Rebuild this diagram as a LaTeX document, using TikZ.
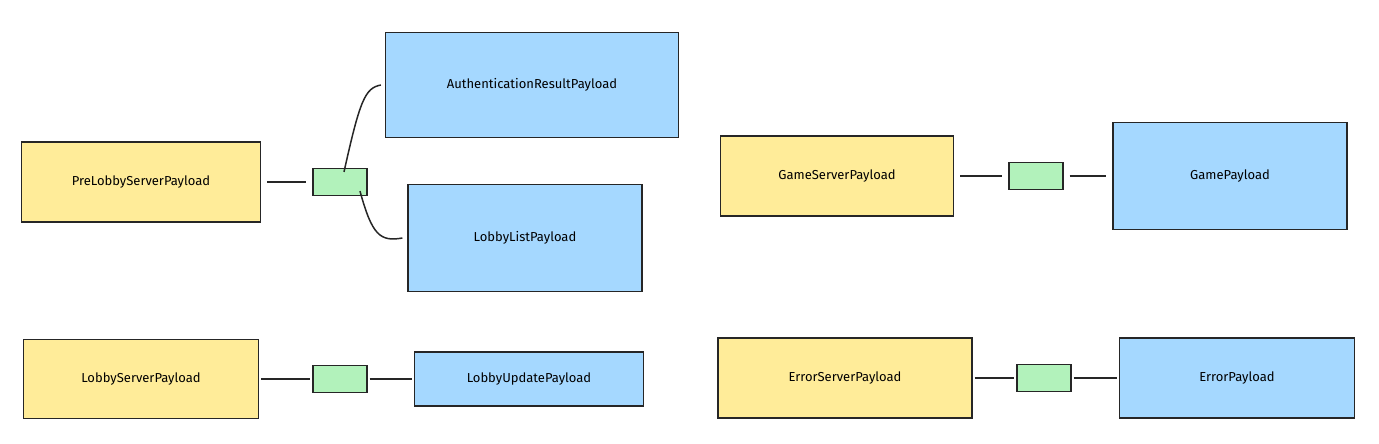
\documentclass[tikz,border=0pt]{standalone}
\usepackage{fontspec}
\setmainfont{Fira Sans}
\begin{document}
\begin{tikzpicture}[x=1pt,y=-1pt,
  box/.style={draw=black!85,line width=1.2pt,inner sep=0pt,font=\fontsize{13}{15}\selectfont},
  yel/.style={box,fill=yellow1},
  blu/.style={box,fill=blue1},
  grn/.style={box,fill=green1,minimum width=54pt,minimum height=27pt},
  ln/.style={line width=1.5pt,black!85,shorten >=6pt,shorten <=6pt}]
\definecolor{yellow1}{HTML}{FFEC99}
\definecolor{blue1}{HTML}{A5D8FF}
\definecolor{green1}{HTML}{B2F2BB}
\useasboundingbox (0,0) rectangle (1379,444);
\node[yel,minimum width=239pt,minimum height=80pt] (pre) at (141,182) {PreLobbyServerPayload};
\node[grn] (g1) at (340,182) {};
\node[blu,minimum width=293pt,minimum height=105pt] (auth) at (532,85) {AuthenticationResultPayload};
\node[blu,minimum width=234pt,minimum height=107pt] (list) at (525,238) {LobbyListPayload};
\node[yel,minimum width=233pt,minimum height=80pt] (gs) at (837,176) {GameServerPayload};
\node[grn] (g2) at (1036,176) {};
\node[blu,minimum width=234pt,minimum height=107pt] (gp) at (1230,176) {GamePayload};
\node[yel,minimum width=235pt,minimum height=79pt] (ls) at (141,379) {LobbyServerPayload};
\node[grn] (g3) at (340,379) {};
\node[blu,minimum width=229pt,minimum height=54pt] (lu) at (529,379) {LobbyUpdatePayload};
\node[yel,minimum width=254pt,minimum height=80pt] (es) at (845,378) {ErrorServerPayload};
\node[grn] (g4) at (1044,378) {};
\node[blu,minimum width=235pt,minimum height=80pt] (ep) at (1237,378) {ErrorPayload};
\draw[ln] (pre) -- (g1);
\draw[line width=1.5pt,black!85] ([xshift=4pt,yshift=-4pt]g1.north) .. controls (360,100) and (365,88) .. ([xshift=-4pt]auth.west);
\draw[line width=1.5pt,black!85] ([xshift=20pt,yshift=5pt]g1.south) .. controls (372,235) and (380,242) .. ([xshift=-5pt]list.west);
\draw[ln] (gs) -- (g2);
\draw[ln] (g2) -- (gp);
\draw[ln,shorten <=2pt,shorten >=2pt] (ls) -- (g3);
\draw[ln,shorten <=2pt,shorten >=2pt] (g3) -- (lu);
\draw[ln,shorten <=2pt,shorten >=2pt] (es) -- (g4);
\draw[ln,shorten <=2pt,shorten >=2pt] (g4) -- (ep);
\end{tikzpicture}
\end{document}
